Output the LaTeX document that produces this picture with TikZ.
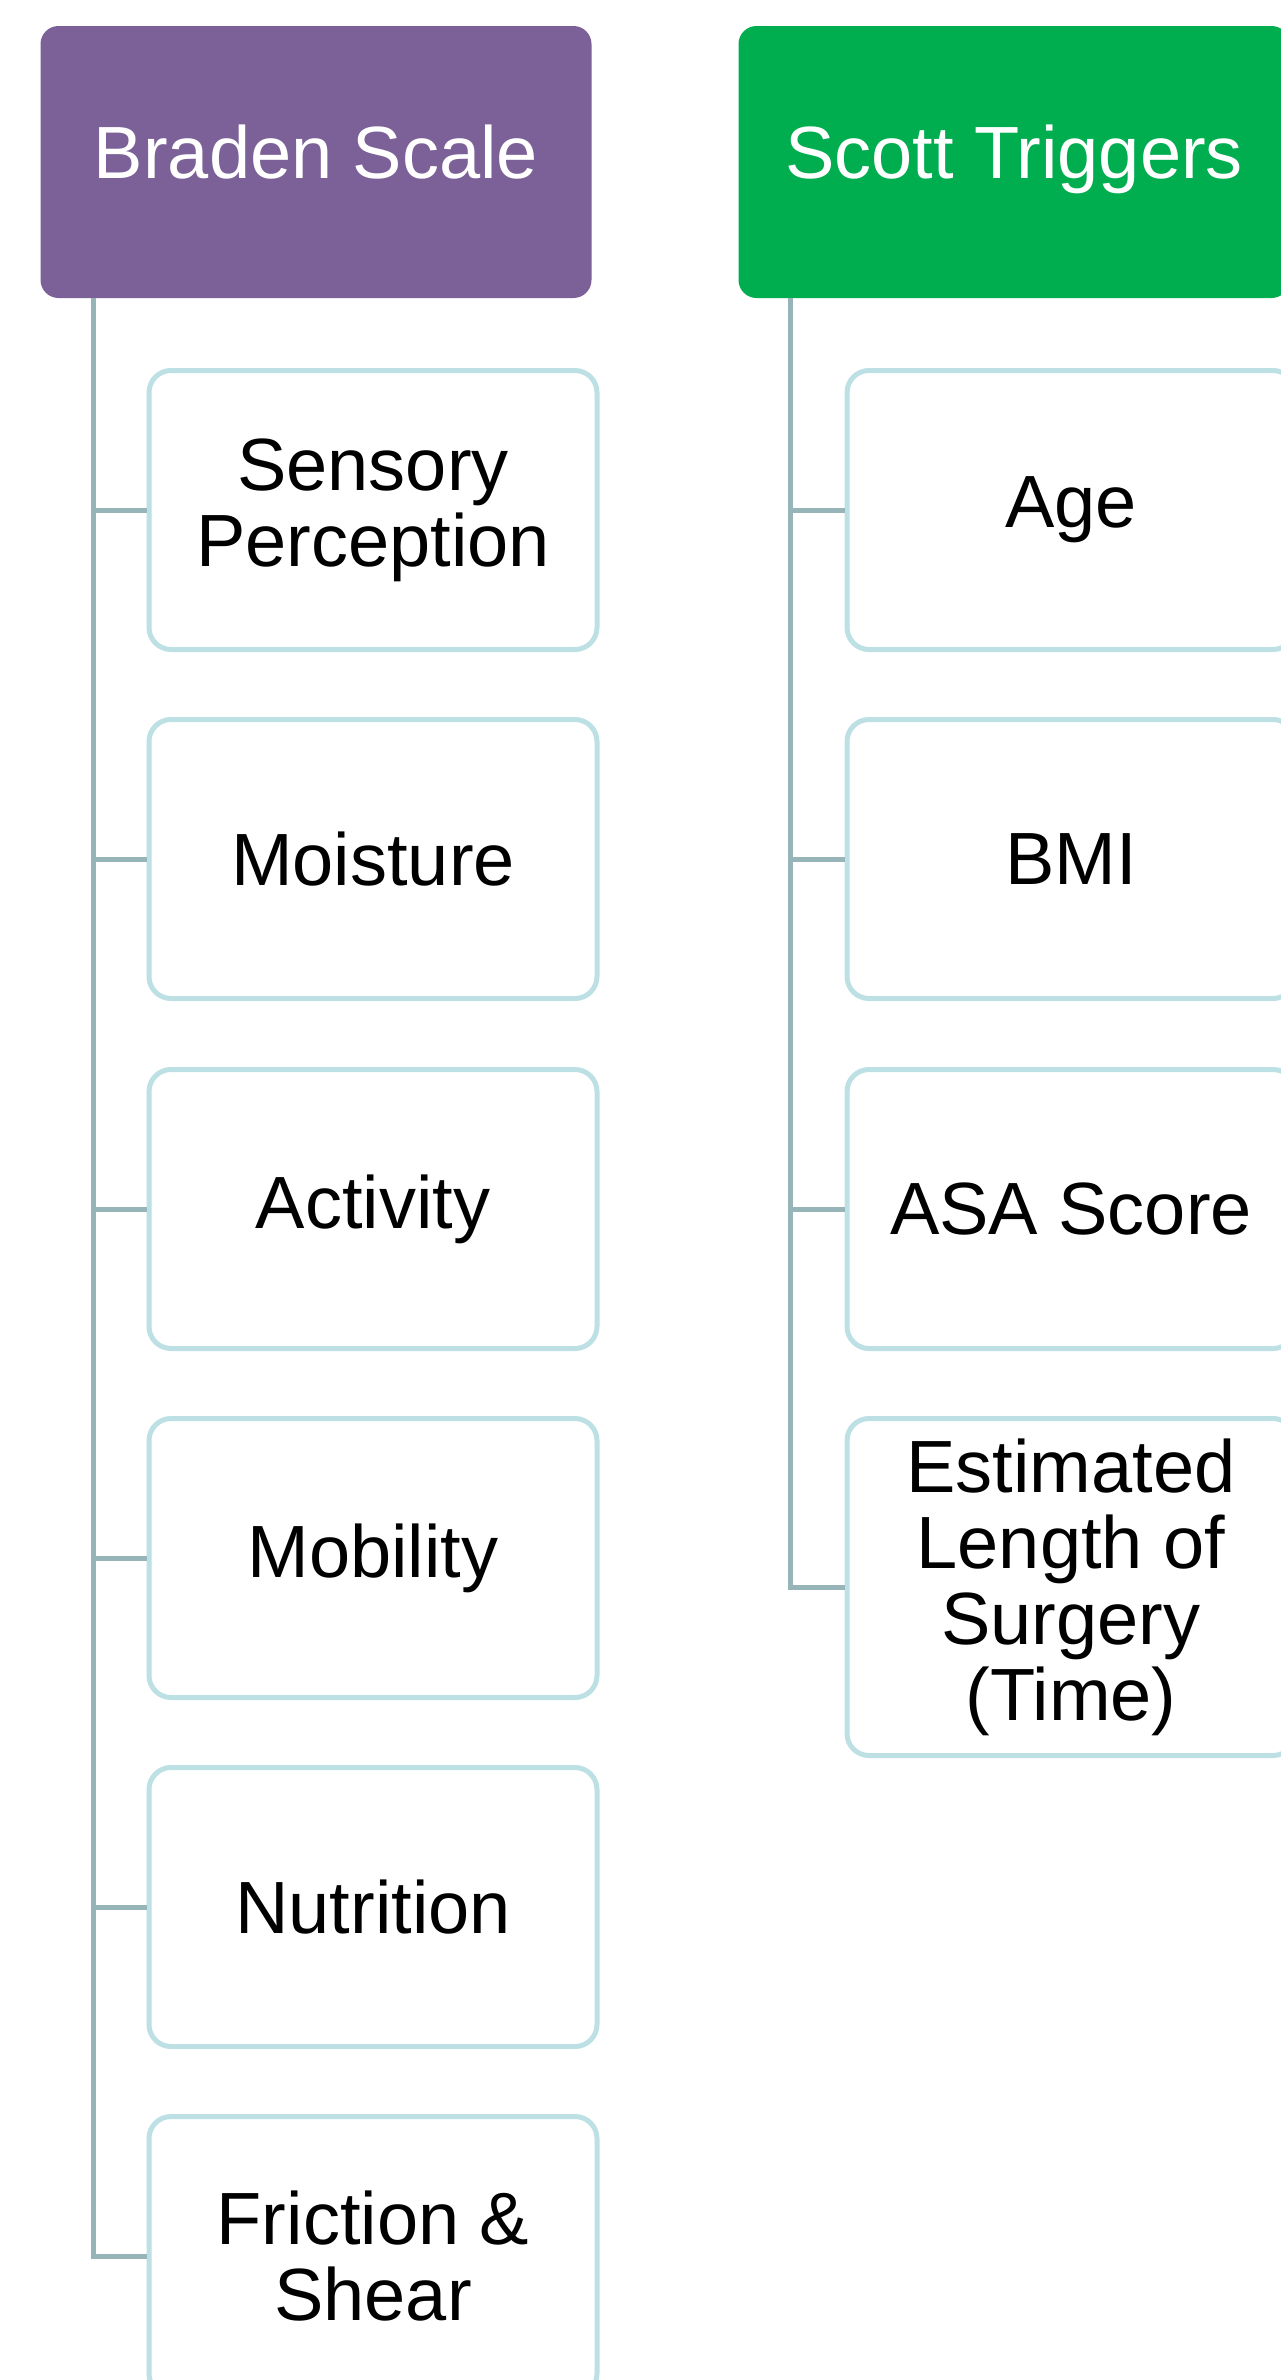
\documentclass[tikz,border=0pt]{standalone}
\usepackage{fontspec}
\setmainfont{Liberation Sans}

\definecolor{bradenpurple}{HTML}{7C6198}
\definecolor{scottgreen}{HTML}{00AE50}
\definecolor{itemborder}{HTML}{BCE0E4}
\definecolor{linkgray}{HTML}{97B4B8}

\tikzset{
  head/.style={rounded corners=18pt, minimum width=551pt, minimum height=272pt,
    text=white, font=\fontsize{74}{76}\selectfont, text height=50pt, text depth=18pt},
  item/.style={draw=itemborder, line width=5pt, fill=white, rounded corners=22pt,
    minimum width=448pt, minimum height=279pt, align=center,
    font=\fontsize{74}{76}\selectfont},
  link/.style={draw=linkgray, line width=5pt}
}

\begin{document}
\begin{tikzpicture}[x=1pt, y=-1pt]
    \useasboundingbox (0,0) rectangle (1280,2380);
    % headers
    \node[head, fill=bradenpurple] (braden) at (316,162) {Braden Scale};
    \node[head, fill=scottgreen] (scott) at (1014,162) {Scott Triggers};
    % braden items
    \node[item] (sensory) at (373,510) {Sensory\\Perception};
    \node[item] (moisture) at (373,859) {Moisture};
    \node[item] (activity) at (373,1209) {Activity};
    \node[item] (mobility) at (373,1558) {Mobility};
    \node[item] (nutrition) at (373,1907) {Nutrition};
    \node[item] (friction) at (373,2256) {Friction \&\\Shear};
    % scott items
    \node[item] (age) at (1071,510) {Age};
    \node[item] (bmi) at (1071,859) {BMI};
    \node[item] (asa) at (1071,1209) {ASA Score};
    \node[item, minimum height=337pt] (length) at (1071,1587) {Estimated\\Length of\\Surgery\\(Time)};
    % links
    \coordinate (btop) at ([xshift=53pt]braden.south west);
    \coordinate (stop) at ([xshift=52pt]scott.south west);
    \draw[link] (btop) |- (sensory.west);
    \draw[link] (btop) |- (moisture.west);
    \draw[link] (btop) |- (activity.west);
    \draw[link] (btop) |- (mobility.west);
    \draw[link] (btop) |- (nutrition.west);
    \draw[link] (btop) |- (friction.west);
    \draw[link] (stop) |- (age.west);
    \draw[link] (stop) |- (bmi.west);
    \draw[link] (stop) |- (asa.west);
    \draw[link] (stop) |- (length.west);
\end{tikzpicture}
\end{document}
